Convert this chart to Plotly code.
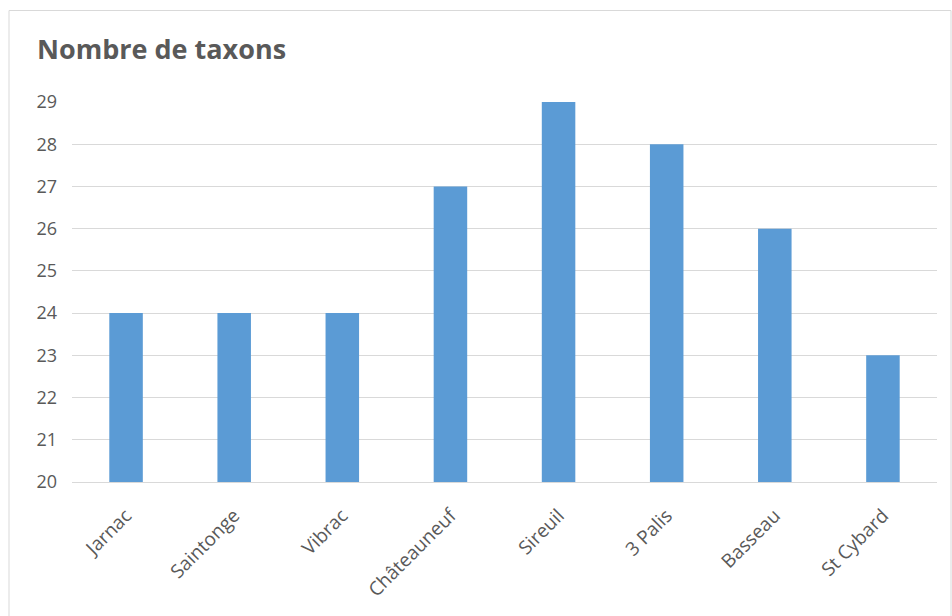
import plotly.graph_objects as go

categories = ["Jarnac", "Saintonge", "Vibrac", "Châteauneuf", "Sireuil", "3 Palis", "Basseau", "St Cybard"]
values = [24, 24, 24, 27, 29, 28, 26, 23]
y_ticks = list(range(20, 30))

W, H = 952, 616
L, R, T, B = 72, 15, 102, 134
pw, ph = W - L - R, H - T - B

fig = go.Figure(go.Bar(x=categories, y=values, marker=dict(color="#5B9BD5", line=dict(width=0)),
                       width=0.31))

def px(x):
    return (x - L) / pw

def py(y):
    return 1 - (y - T) / ph

fig.add_shape(type="rect", xref="paper", yref="paper",
              x0=px(9), x1=px(951), y0=py(620), y1=py(10.5),
              line=dict(color="#D9D9D9", width=1), fillcolor="rgba(0,0,0,0)", layer="below")

fig.update_layout(
    width=W, height=H,
    margin=dict(l=L, r=R, t=T, b=B),
    paper_bgcolor="white", plot_bgcolor="white",
    font=dict(family="Open Sans, Liberation Sans, sans-serif", color="#595959", size=18),
    title=dict(text="<b>Nombre de taxons</b>", x=37 / W, xanchor="left", xref="container",
               y=1 - 50 / H, yanchor="middle", yref="container",
               font=dict(size=27, color="#595959")),
    showlegend=False,
)
fig.update_yaxes(range=[20, 29], tickvals=y_ticks, showgrid=True, gridcolor="#D9D9D9", gridwidth=1,
                 zeroline=False, showline=False, ticks="", ticklabelstandoff=14, tickfont=dict(size=18))
fig.update_xaxes(tickangle=-45, showline=True, linecolor="#D9D9D9", linewidth=1, ticks="",
                 tickfont=dict(size=19), ticklabelstandoff=14)

fig.write_html("out.html")
